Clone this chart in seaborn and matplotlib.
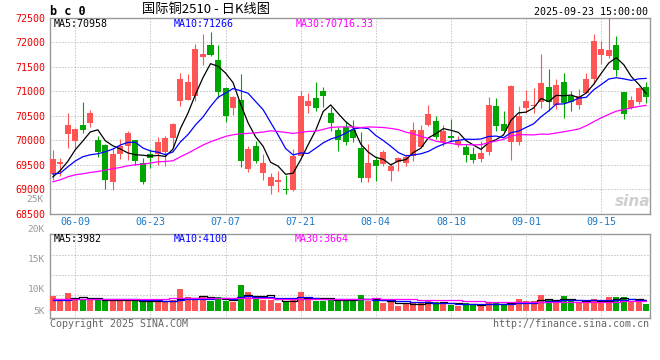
import numpy as np
import pandas as pd
import seaborn as sns
import matplotlib
matplotlib.use("Agg")
import matplotlib.pyplot as plt

#========================================================================================================
# Data (daily K line, 国际铜2510)
#========================================================================================================

first_day = '2025-06-04'
last_day = '2025-09-23'
date_ticks = ['06-09', '06-23', '07-07', '07-21', '08-04', '08-18', '09-01', '09-15']

open_ = [69313, 69524, 70129, 69993, 70313, 70360, 70014, 69905, 69156, 69721,
         69891, 70007, 69537, 69721, 69721, 69755, 70048, 70809, 70830, 70912,
         71707, 71952, 71639, 71068, 70653, 70823, 69415, 69891, 69333, 69075,
         69156, 69007, 68993, 69673, 70707, 70864, 71014, 70558, 70211, 70265,
         70211, 69843, 69231, 69599, 69517, 69381, 69565, 69531, 69687, 69871,
         70313, 70395, 69973, 70082, 69905, 69871, 69721, 69619, 69769, 70694,
         70333, 69973, 69973, 70653, 70707, 70775, 71082, 70721, 71197, 70898,
         70728, 70966, 71252, 71748, 71728, 71946, 70993, 70660, 70775, 71082]
high = [69803, 69639, 70551, 70258, 70789, 70626, 70095, 69925, 69823, 70027,
        70190, 70007, 69633, 69823, 70061, 70095, 70347, 71374, 71354, 71966,
        72170, 72204, 71946, 71082, 70912, 71354, 69891, 69993, 69721, 69333,
        69381, 69292, 69823, 71000, 70966, 71197, 71082, 70673, 70265, 70401,
        70422, 70163, 69925, 69687, 69803, 69537, 69667, 69721, 70381, 70313,
        70721, 70490, 70313, 70435, 70095, 69925, 69871, 69993, 70878, 70864,
        70592, 71129, 70694, 71027, 71068, 71762, 71456, 71252, 71374, 71014,
        71048, 71374, 72170, 72034, 72500, 72136, 70993, 70898, 71082, 71184]
low = [69197, 69279, 69843, 69837, 70156, 70265, 69667, 69007, 68986, 69619,
       69605, 69503, 69109, 69435, 69503, 69483, 69857, 70707, 70830, 70809,
       71544, 71728, 70864, 70381, 70524, 69463, 69360, 69537, 69190, 68905,
       68952, 68905, 68973, 69673, 70558, 70605, 70673, 70197, 69789, 69905,
       69973, 69143, 69143, 69177, 69483, 69177, 69381, 69469, 69585, 69857,
       70299, 70027, 69891, 69993, 69857, 69565, 69537, 69565, 69701, 70197,
       70184, 69605, 69905, 70551, 70558, 70660, 70605, 70639, 70449, 70605,
       70639, 70966, 71150, 71558, 71680, 71320, 70435, 70639, 70741, 70762]
close = [69619, 69551, 70313, 70231, 70218, 70551, 69769, 69197, 69721, 69891,
         70150, 69585, 69143, 69633, 69959, 70048, 70326, 71252, 71197, 71864,
         71762, 71748, 70993, 70503, 70891, 69585, 69823, 69571, 69537, 69258,
         69190, 68993, 69687, 70898, 70803, 70653, 70912, 70354, 70014, 69973,
         70048, 69231, 69537, 69483, 69769, 69483, 69639, 69667, 70211, 70211,
         70537, 70061, 70184, 70041, 69993, 69707, 69605, 69741, 70721, 70299,
         70197, 71102, 70490, 70796, 70721, 71170, 70775, 71129, 70762, 70789,
         70898, 71252, 72034, 71864, 71844, 71442, 70537, 70823, 71068, 70891]
volume = [5750, 4125, 6875, 4500, 4125, 4500, 4125, 4125, 4125, 4125,
          3750, 3750, 3750, 3250, 4125, 3250, 4125, 8250, 5375, 4125,
          5375, 3750, 5375, 3750, 3250, 9750, 7000, 4500, 4125, 4125,
          2875, 3750, 4750, 7000, 5375, 3750, 3750, 4125, 3750, 4500,
          3750, 6000, 3750, 3750, 2875, 3250, 2000, 2500, 3250, 2875,
          3750, 3250, 2875, 2250, 2000, 2875, 2500, 2250, 3250, 2875,
          2500, 3250, 4500, 3750, 3750, 6000, 4500, 3250, 5625, 3750,
          3250, 3250, 4500, 3250, 5375, 5375, 5375, 3750, 3250, 2625]

#Moving-average values before the window is full
ma5_head = [69253, 69387, 69571, 69809]
ma10_head = [69313, 69333, 69460, 69580, 69667, 69707, 69728, 69769, 69823]
ma30_head = [69156, 69197, 69258, 69299, 69320, 69347, 69367, 69394, 69422, 69449,
             69483, 69503, 69517, 69537, 69565, 69571, 69585, 69667, 69741, 69823,
             69905, 69973, 70027, 70082, 70116, 70136, 70143, 70156, 70170]
vma5_head = [4400, 4400, 4500, 4700]
vma10_head = [4200, 4250, 4300, 4350, 4400, 4450, 4500, 4550, 4600]
vma30_head = [4650, 4650, 4650, 4650, 4660, 4660, 4660, 4660, 4670, 4670,
              4670, 4670, 4680, 4680, 4680, 4680, 4690, 4690, 4690, 4690,
              4700, 4700, 4700, 4700, 4700, 4700, 4700, 4700, 4700]

#Header texts
title_text = '国际铜2510 - 日K线图'
stamp_text = '2025-09-23 15:00:00'
price_ma_labels = ['MA5:70958', 'MA10:71266', 'MA30:70716.33']
vol_ma_labels = ['MA5:3982', 'MA10:4100', 'MA30:3664']
price_ticks = [68500, 69000, 69500, 70000, 70500, 71000, 71500, 72000, 72500]
vol_tick_labels = ['20K', '15K', '10K', '5K']

#========================================================================================================
# Prepare
#========================================================================================================

def with_head(values, n, head):
    ma = pd.Series(values, dtype=float).rolling(n).mean().to_numpy()
    ma[:len(head)] = head
    return ma

open_ = np.array(open_); close = np.array(close)
high = np.array(high); low = np.array(low); volume = np.array(volume)
idx = np.arange(len(close))

days = list(pd.bdate_range(first_day, last_day).strftime('%m-%d'))
tick_pos = [days.index(d) for d in date_ticks]

RED = '#ff5555'
GREEN = '#00a600'
colors = np.where(close >= open_, RED, GREEN)

ma5 = with_head(close, 5, ma5_head)
ma10 = with_head(close, 10, ma10_head)
ma30 = with_head(close, 30, ma30_head)
vma5 = with_head(volume, 5, vma5_head)
vma10 = with_head(volume, 10, vma10_head)
vma30 = with_head(volume, 30, vma30_head)

#========================================================================================================
# Plot
#========================================================================================================

sns.set_style('white')
plt.rcParams['font.family'] = ['DejaVu Sans Mono', 'Noto Sans CJK SC']

W, H = 660, 360
fig = plt.figure(figsize=(W/100, H/100), dpi=100)

def px_axes(left, top, right, bottom):
    return fig.add_axes([left/W, 1-bottom/H, (right-left)/W, (bottom-top)/H])

def ftext(x, y, s, **kw):
    fig.text(x/W, 1-y/H, s, **kw)

ax = px_axes(50, 17.8, 650, 214)
ax2 = px_axes(50, 234, 650, 318)

xlim = (-0.36, 79.49)
grid_kw = dict(color='#aaaaaa', linestyle=(0, (1, 2)), linewidth=0.72)

#Candles
ax.vlines(idx, low, high, colors=colors, linewidth=0.8, zorder=3)
body_h = np.maximum(np.abs(close - open_), 20)
ax.bar(idx, body_h, bottom=np.minimum(open_, close), width=0.8,
       color=colors, linewidth=0, zorder=4)

sns.lineplot(x=idx, y=ma5, ax=ax, color='black', linewidth=0.9, zorder=5)
sns.lineplot(x=idx, y=ma10, ax=ax, color='#0000ff', linewidth=0.9, zorder=5)
sns.lineplot(x=idx, y=ma30, ax=ax, color='#ff00ff', linewidth=0.9, zorder=5)

ax.set_xlim(*xlim)
ax.set_ylim(68500, 72500)
ax.set_yticks(price_ticks)
ax.set_xticks(tick_pos)
ax.set_xticklabels(date_ticks)
ax.tick_params(axis='y', length=0, pad=3, labelsize=7.2, labelcolor='#ee0000')
ax.tick_params(axis='x', length=0, pad=2, labelsize=7.2, labelcolor='#1a78c8')
ax.grid(True, **grid_kw)
ax.set_axisbelow(True)

#Volume
ax2.bar(idx, volume, width=0.8, color=colors, linewidth=0, zorder=3)
sns.lineplot(x=idx, y=vma5, ax=ax2, color='black', linewidth=0.9, drawstyle='steps-mid', zorder=5)
sns.lineplot(x=idx, y=vma10, ax=ax2, color='#0000ff', linewidth=0.9, drawstyle='steps-mid', zorder=5)
sns.lineplot(x=idx, y=vma30, ax=ax2, color='#ff00ff', linewidth=0.9, drawstyle='steps-mid', zorder=5)
ax2.set_xlim(*xlim)
ax2.set_ylim(-2625, 28875)
ax2.set_yticks([6000, 13500, 21000])
ax2.set_yticklabels([])
ax2.set_xticks(tick_pos)
ax2.set_xticklabels([])
ax2.tick_params(length=0)
ax2.grid(True, **grid_kw)
ax2.set_axisbelow(True)

for a in (ax, ax2):
    a.set_xlabel('')
    a.set_ylabel('')
    for sp in a.spines.values():
        sp.set_color('#999999')
        sp.set_linewidth(1.0)

#Texts
ftext(50, 11.5, 'b c 0', fontsize=8.5, fontweight='bold', color='black', va='center', ha='left')
ftext(206, 10, title_text, fontsize=9.5, color='black', va='center', ha='center',
      family=['Noto Sans CJK SC', 'DejaVu Sans'])
ftext(648, 12, stamp_text, fontsize=7.2, color='black', va='center', ha='right')

for x, s, c in zip([54, 174, 296], price_ma_labels, ['black', '#0000ff', '#ff00ff']):
    ftext(x, 24, s, fontsize=7.2, color=c, va='center', ha='left')
for x, s, c in zip([54, 174, 295], vol_ma_labels, ['black', '#0000ff', '#ff00ff']):
    ftext(x, 239, s, fontsize=7.2, color=c, va='center', ha='left')

for y, s in zip([230, 260, 290, 311], vol_tick_labels):
    ftext(45, y, s, fontsize=6.8, color='#999999', va='center', ha='right')
ftext(44, 200, '25K', fontsize=6.8, color='#999999', va='center', ha='right')

ftext(633, 201, 'sina', fontsize=11, fontstyle='italic', fontweight='bold',
      color='#cfcfcf', va='center', ha='center', family='DejaVu Sans')

ftext(50, 324, 'Copyright 2025 SINA.COM', fontsize=7.2, color='#666666', va='center', ha='left')
ftext(649, 324, 'http://finance.sina.com.cn', fontsize=7.2, color='#666666', va='center', ha='right')

fig.savefig('out.png', dpi=100)
plt.close()
